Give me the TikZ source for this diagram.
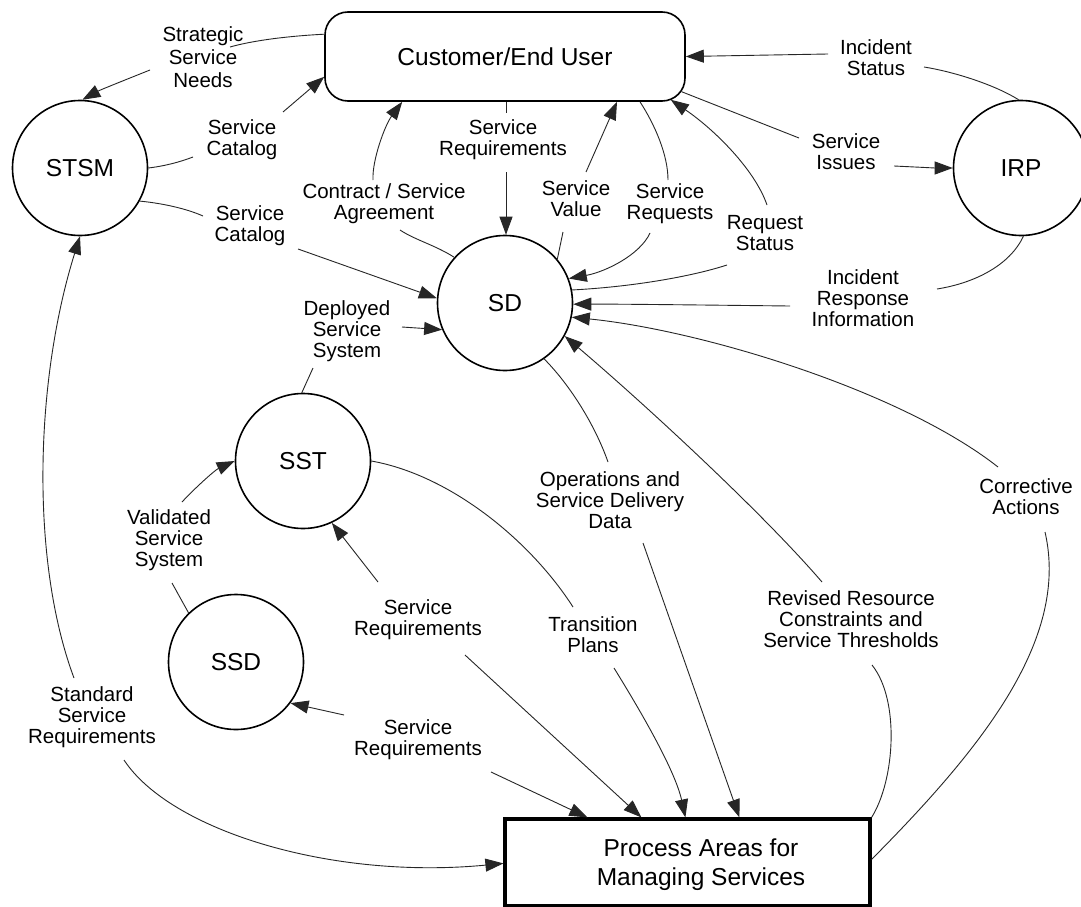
\documentclass[tikz,border=0pt]{standalone}
\usepackage{fontspec}
\setmainfont{Liberation Sans}
\usetikzlibrary{arrows.meta,calc}
\begin{document}
\begin{tikzpicture}[x=1pt,y=-1pt,
  every node/.style={font=\fontsize{20.5}{21}\selectfont},
  lab/.style={align=center, inner sep=0pt},
  bignode/.style={circle, draw, line width=1.6pt, inner sep=0pt, minimum size=135pt, font=\fontsize{24.5}{29}\selectfont},
  conn/.style={line width=0.9pt, draw=black!85},
  arr/.style={conn, -{Triangle[length=18pt,width=13pt]}}]
\useasboundingbox (0,0) rectangle (1081,907);
\fill[white] (0,0) rectangle (1081,907);

% nodes
\node[draw, rounded corners=23pt, line width=1.6pt, minimum width=360pt, minimum height=89pt, inner sep=0pt, font=\fontsize{24.5}{29}\selectfont] (cu) at (505,56.5) {Customer/End User};
\node[bignode] (stsm) at (80,168) {STSM};
\node[bignode] (irp) at (1021,168) {IRP};
\node[bignode] (sd) at (505,303) {SD};
\node[bignode] (sst) at (303,461) {SST};
\node[bignode] (ssd) at (236,662) {SSD};
\node[draw, line width=3.2pt, minimum width=365pt, minimum height=87pt, inner sep=0pt] (pa) at (687.5,862.5) {};
\node[align=center, inner sep=0pt, font=\fontsize{24.5}{29}\selectfont] (pat) at (701,865) {Process Areas for\\Managing Services};

% labels
\node[lab, font=\fontsize{20.5}{23}\selectfont] (l1) at (203,57) {Strategic\\Service\\Needs};
\node[lab] (l2) at (242,140) {Service\\Catalog};
\node[lab] (l3) at (250,226) {Service\\Catalog};
\node[lab] (l4) at (384,204) {Contract / Service\\Agreement};
\node[lab] (l5) at (503,140) {Service\\Requirements};
\node[lab] (l6) at (576,199) {Service\\Value};
\node[lab] (l7) at (670,204) {Service\\Requests};
\node[lab] (l8) at (765,233) {Request\\Status};
\node[lab] (l9) at (876,58) {Incident\\Status};
\node[lab] (l10) at (846,152) {Service\\Issues};
\node[lab] (l11) at (863,298) {Incident\\Response\\Information};
\node[lab] (l12) at (1026,497) {Corrective\\Actions};
\node[lab] (l13) at (851,619) {Revised Resource\\Constraints and\\Service Thresholds};
\node[lab] (l14) at (610,500) {Operations and\\Service Delivery\\Data};
\node[lab] (l15) at (593,635) {Transition\\Plans};
\node[lab] (l16) at (418,620) {Service\\Requirements};
\node[lab] (l17) at (418,740) {Service\\Requirements};
\node[lab] (l18) at (169,540) {Validated\\Service\\System};
\node[lab] (l19) at (347,331) {Deployed\\Service\\System};
\node[lab] (l20) at (92,717) {Standard\\Service\\Requirements};

% free ends of connectors
\coordinate (k1a) at (230,47);   \coordinate (k1b) at (150,70);
\coordinate (k2a) at (193,157);  \coordinate (k2b) at (283,112);
\coordinate (k3a) at (203,216);  \coordinate (k3b) at (298,249);
\coordinate (k4a) at (400,230);  \coordinate (k4b) at (373,180);
\coordinate (k5a) at (506,113);  \coordinate (k5b) at (506,172);
\coordinate (k6a) at (563,232);  \coordinate (k6b) at (586,172);
\coordinate (k7a) at (668,180);  \coordinate (k7b) at (650,233);
\coordinate (k8a) at (727,265);  \coordinate (k8b) at (767,205);
\coordinate (k9a) at (924,67);   \coordinate (k9b) at (828,54);
\coordinate (k10a) at (799,138); \coordinate (k10b) at (894,166);
\coordinate (k11a) at (937,289); \coordinate (k11b) at (790,306);
\coordinate (k12a) at (1045,532);\coordinate (k12b) at (998,467);
\coordinate (k13a) at (872,665); \coordinate (k13b) at (822,582);
\coordinate (k14a) at (608,462); \coordinate (k14b) at (643,543);
\coordinate (k15a) at (573,607); \coordinate (k15b) at (614,668);
\coordinate (k16a) at (378,582); \coordinate (k16b) at (465,655);
\coordinate (k17a) at (344,715); \coordinate (k17b) at (491,772);
\coordinate (k18a) at (172,583); \coordinate (k18b) at (182,502);
\coordinate (k19a) at (313,368); \coordinate (k19b) at (402,327);
\coordinate (k20a) at (74,678);  \coordinate (k20b) at (124,760);

% 1 Strategic Service Needs
\draw[conn] ([yshift=-23pt]cu.north west) .. controls (290,36) and (255,40) .. (k1a);
\draw[arr] (k1b) .. controls (125,80) and (100,90) .. (stsm.88);
% 2 Service Catalog (upper)
\draw[conn] (stsm.0) .. controls (165,166) and (180,162) .. (k2a);
\draw[arr] (k2b) -- ([yshift=25pt]cu.south west);
% 3 Service Catalog (lower)
\draw[conn] (stsm.-29) .. controls (160,203) and (185,208) .. (k3a);
\draw[arr] (k3b) -- (sd.176);
% 4 Contract / Service Agreement
\draw[conn] (sd.138) .. controls (435,245) and (415,240) .. (k4a);
\draw[arr] (k4b) .. controls (372,160) and (385,125) .. ([xshift=78pt]cu.south west);
% 5 Service Requirements (top)
\draw[conn] ([xshift=1pt]cu.south) -- (k5a);
\draw[arr] (k5b) -- ([xshift=1pt]sd.north);
% 6 Service Value
\draw[conn] (sd.40) -- (k6a);
\draw[arr] (k6b) -- ([xshift=112pt]cu.south);
% 7 Service Requests
\draw[conn] ([xshift=135pt]cu.south) .. controls (655,125) and (668,155) .. (k7a);
\draw[arr] (k7b) .. controls (640,255) and (605,272) .. (sd.21);
% 8 Request Status
\draw[conn] (sd.11) .. controls (630,287) and (690,277) .. (k8a);
\draw[arr] (k8b) .. controls (755,170) and (715,130) .. ([xshift=-15pt,yshift=2pt]cu.south east);
% 9 Incident Status
\draw[conn] (irp.92) .. controls (995,85) and (955,72) .. (k9a);
\draw[arr] (k9b) -- (cu.east);
% 10 Service Issues
\draw[conn] ([xshift=-4pt,yshift=10pt]cu.south east) -- (k10a);
\draw[arr] (k10b) .. controls (915,167) and (935,168) .. (irp.west);
% 11 Incident Response Information
\draw[conn] (irp.-88) .. controls (1010,265) and (975,283) .. (k11a);
\draw[arr] (k11b) .. controls (700,305) and (620,304) .. (sd.-1);
% 12 Corrective Actions
\draw[conn] ([yshift=-42pt]pa.north east) .. controls (980,750) and (1070,640) .. (k12a);
\draw[arr] (k12b) .. controls (900,390) and (700,330) .. (sd.-12.5);
% 13 Revised Resource Constraints and Service Thresholds
\draw[conn] (pa.north east) .. controls (895,780) and (900,700) .. (k13a);
\draw[arr] (k13b) .. controls (760,510) and (640,400) .. (sd.-29.5);
% 14 Operations and Service Delivery Data
\draw[conn] (sd.-55) .. controls (570,385) and (595,425) .. (k14a);
\draw[arr] (k14b) -- ([xshift=236pt]pa.north west);
% 15 Transition Plans
\draw[conn] (sst.0) .. controls (450,475) and (530,540) .. (k15a);
\draw[arr] (k15b) .. controls (640,710) and (675,770) .. ([xshift=182pt]pa.north west);
% 16 Service Requirements (middle)
\draw[arr] (k16a) -- (sst.-65);
\draw[arr] (k16b) -- ([xshift=138pt]pa.north west);
% 17 Service Requirements (lower)
\draw[arr] (k17a) -- (ssd.-37);
\draw[arr] (k17b) -- ([xshift=84pt]pa.north west);
% 18 Validated Service System
\draw[conn] (ssd.134) -- (k18a);
\draw[arr] (k18b) .. controls (195,488) and (215,470) .. (sst.180);
% 19 Deployed Service System
\draw[conn] (sst.91) -- (k19a);
\draw[arr] (k19b) -- (sd.203);
% 20 Standard Service Requirements
\draw[arr] (k20a) .. controls (30,560) and (35,380) .. (stsm.-90);
\draw[arr] (k20b) .. controls (170,830) and (330,880) .. ([yshift=-46pt]pa.north west);
\end{tikzpicture}
\end{document}
